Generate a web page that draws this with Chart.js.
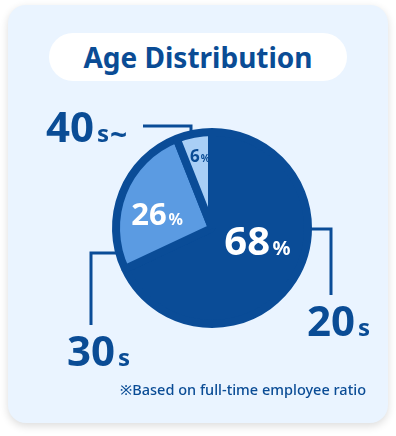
<!DOCTYPE html>
<html lang="en">
<head>
    <meta charset="UTF-8">
    <title>Age Distribution</title>
    <script src="https://cdn.jsdelivr.net/npm/chart.js"></script>
    <style>
        body {
            margin: 0;
            width: 396px;
            height: 436px;
            background: #ffffff;
            font-family: "Noto Sans", "Open Sans", sans-serif;
            position: relative;
            overflow: hidden;
        }

        .card {
            position: absolute;
            left: 8px;
            top: 5px;
            width: 380px;
            height: 418px;
            border-radius: 18px;
            background: #eaf4ff;
            box-shadow: 0 3px 8px rgba(0, 0, 0, 0.14);
        }

        .title {
            position: absolute;
            left: 49px;
            top: 33px;
            width: 298px;
            height: 48px;
            border-radius: 24px;
            background: #ffffff;
            color: #0a4c95;
            font-size: 28px;
            font-weight: 700;
            line-height: 48px;
            text-align: center;
        }

        .note {
            position: absolute;
            right: 30px;
            top: 379px;
            color: #0a4c95;
            font-size: 14.5px;
            font-weight: 500;
        }

        #age-chart {
            position: absolute;
            left: 0;
            top: 0;
        }
    </style>
</head>
<body>
    <div class="card"></div>
    <div class="title">Age Distribution</div>
    <canvas id="age-chart" width="396" height="436"></canvas>
    <div class="note">※Based on full-time employee ratio</div>

    <script>
        // age groups and their share of full-time employees (%)
        const ageGroups = ['20s', '30s', '40s~'];
        const shares = [68, 26, 6];

        const DARK = '#0a4c97';
        const TEXT = '#0a4c95';

        // where each percentage sits inside its slice (angle from 12 o'clock, fraction of radius)
        const inside = [
            { angle: 105, r: 0.49, big: 40, small: 20, color: '#ffffff' },
            { angle: 284, r: 0.59, big: 31, small: 16, color: '#ffffff' },
            { angle: 350.5, r: 0.76, big: 17, small: 10, color: TEXT },
        ];

        function drawPercent(ctx, x, y, value, p) {
            ctx.fillStyle = p.color;
            ctx.textBaseline = 'alphabetic';
            ctx.textAlign = 'left';
            ctx.font = `700 ${p.big}px "Noto Sans"`;
            const w1 = ctx.measureText(String(value)).width;
            ctx.font = `700 ${p.small}px "Noto Sans"`;
            const w2 = ctx.measureText('%').width;
            const gap = p.big * 0.06;
            const left = x - (w1 + gap + w2) / 2;
            const base = y + p.big * 0.36;
            ctx.font = `700 ${p.big}px "Noto Sans"`;
            ctx.fillText(String(value), left, base);
            ctx.font = `700 ${p.small}px "Noto Sans"`;
            ctx.fillText('%', left + w1 + gap, base);
        }

        function drawGroupLabel(ctx, label, x, base) {
            const m = label.match(/^(\d+)(.*)$/);
            ctx.fillStyle = TEXT;
            ctx.textAlign = 'left';
            ctx.textBaseline = 'alphabetic';
            ctx.font = '700 42px "Noto Sans"';
            ctx.fillText(m[1], x, base);
            let cx = x + ctx.measureText(m[1]).width + 3;
            for (const ch of m[2]) {
                // the tilde is drawn a bit larger, as in the original artwork
                ctx.font = ch === '~' ? '700 30px "Noto Sans"' : '700 24px "Noto Sans"';
                ctx.fillText(ch, cx, ch === '~' ? base + 3 : base);
                cx += ctx.measureText(ch).width + 1;
            }
        }

        const labelPlugin = {
            id: 'ageLabels',
            afterDatasetsDraw(chart) {
                const ctx = chart.ctx;
                const arcs = chart.getDatasetMeta(0).data;
                const cx = arcs[0].x;
                const cy = arcs[0].y;
                const r = arcs[0].outerRadius;
                const R = r + 4; // visible edge incl. border

                ctx.save();
                // values inside the slices
                arcs.forEach((arc, i) => {
                    const a = inside[i].angle * Math.PI / 180;
                    const d = r * inside[i].r;
                    drawPercent(ctx, cx + Math.sin(a) * d, cy - Math.cos(a) * d, shares[i], inside[i]);
                });

                // leader lines
                ctx.strokeStyle = DARK;
                ctx.lineWidth = 3;
                ctx.lineJoin = 'miter';
                ctx.lineCap = 'butt';

                // 20s
                ctx.beginPath();
                ctx.moveTo(cx + R - 2, cy + 1);
                ctx.lineTo(cx + R + 19, cy + 1);
                ctx.lineTo(cx + R + 19, cy + 67);
                ctx.stroke();

                // 30s
                const y30 = cy + 25;
                ctx.beginPath();
                ctx.moveTo(cx - Math.sqrt(R * R - 25 * 25) + 2, y30);
                ctx.lineTo(cx - 121, y30);
                ctx.lineTo(cx - 121, cy + 97);
                ctx.stroke();

                // 40s~
                ctx.beginPath();
                ctx.moveTo(cx - 21, cy - Math.sqrt(R * R - 21 * 21) + 2);
                ctx.lineTo(cx - 21, cy - 102);
                ctx.lineTo(cx - 69, cy - 102);
                ctx.stroke();

                drawGroupLabel(ctx, ageGroups[0], cx + R - 5, cy + 108);
                drawGroupLabel(ctx, ageGroups[1], cx - 145, cy + 138);
                drawGroupLabel(ctx, ageGroups[2], cx - 166, cy - 86);
                ctx.restore();
            }
        };

        new Chart(document.getElementById('age-chart'), {
            type: 'pie',
            data: {
                labels: ageGroups,
                datasets: [{
                    data: shares,
                    backgroundColor: [DARK, '#5b9be2', '#a9cff6'],
                    borderColor: DARK,
                    borderWidth: 8,
                    hoverBorderWidth: 8,
                    hoverOffset: 0,
                }],
            },
            options: {
                responsive: false,
                animation: false,
                devicePixelRatio: 1,
                events: [],
                layout: {
                    padding: { left: 112, right: 84, top: 128, bottom: 108 },
                },
                plugins: {
                    legend: { display: false },
                    tooltip: { enabled: false },
                },
            },
            plugins: [labelPlugin],
        });
    </script>
</body>
</html>
